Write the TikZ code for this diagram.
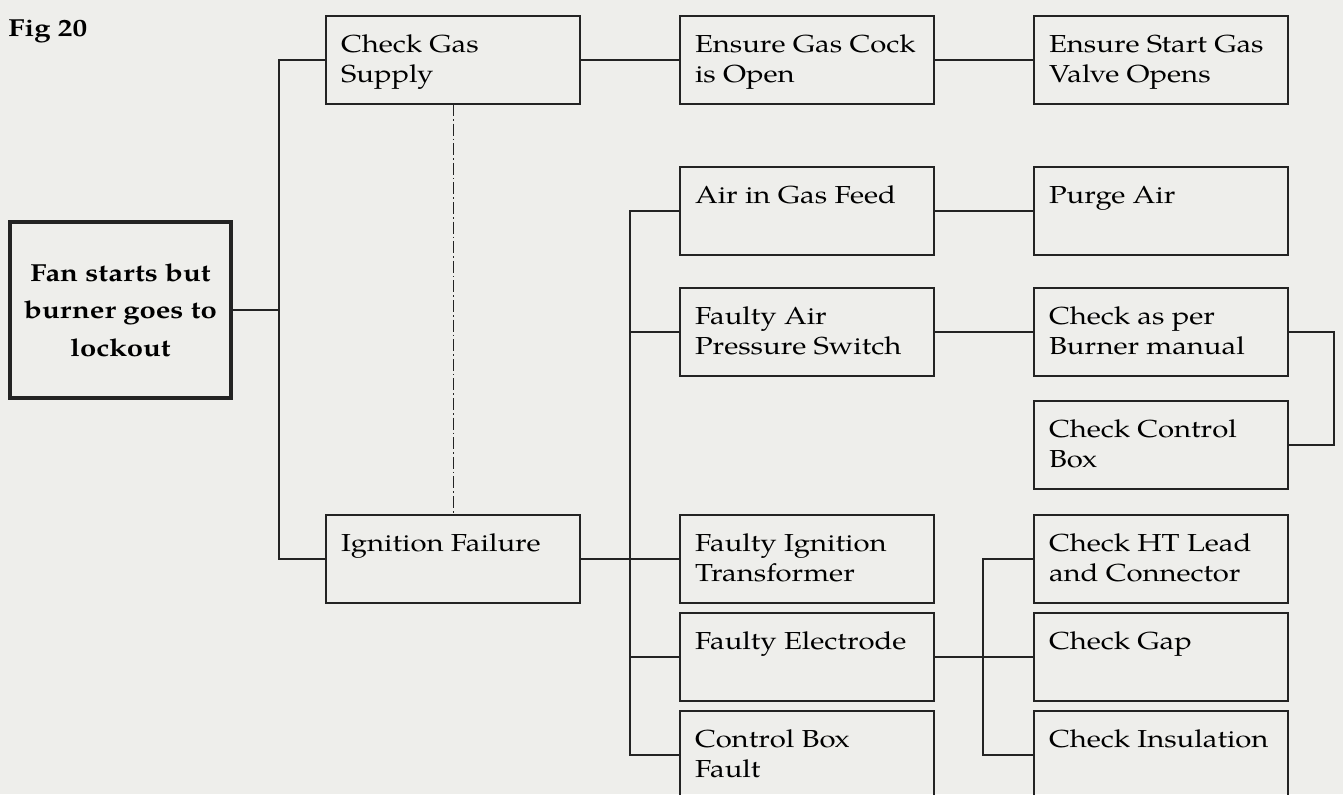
\documentclass[tikz,border=0pt]{standalone}
\usepackage{fontspec}
\setmainfont{TeX Gyre Pagella}[FakeStretch=1.19]
\definecolor{paper}{RGB}{238,238,235}
\definecolor{ink}{RGB}{35,35,35}
% text of a fault box: top left, like the scan
\newcommand{\celltext}[1]{\parbox[t][44pt][t]{127pt}{\raggedright\leftskip=7.5pt
  \fontsize{12.3}{15}\selectfont\rule{0pt}{18pt}#1}}

\begin{document}
\begin{tikzpicture}[x=0.5pt,y=-0.5pt,
    faultbox/.style={draw=ink, line width=1pt, anchor=north west, inner sep=0pt, outer sep=0pt},
    startbox/.style={draw=ink, line width=2pt, minimum width=110.5pt, minimum height=88pt,
      inner sep=0pt, outer sep=0pt, align=center, font=\bfseries\fontsize{12.3}{18.75}\selectfont},
    link/.style={draw=ink, line width=0.75pt}]
  \fill[paper] (0,0) rectangle (1343,794);
  \useasboundingbox (0,0) rectangle (1343,794);

  \node[anchor=base west, inner sep=0pt, font=\bfseries\fontsize{12.3}{15}\selectfont] (fig) at (8,36) {Fig 20};
  \node[startbox] (lock) at (120.5,310) {Fan starts but\\burner goes to\\lockout};

  % first column
  \node[faultbox] (gas) at (326,16) {\celltext{Check Gas\\Supply}};
  \node[faultbox] (ign) at (326,515) {\celltext{Ignition Failure}};

  % second column
  \node[faultbox] (cock)  at (680,16)  {\celltext{Ensure Gas Cock\\is Open}};
  \node[faultbox] (air)   at (680,167) {\celltext{Air in Gas Feed}};
  \node[faultbox] (press) at (680,288) {\celltext{Faulty Air\\Pressure Switch}};
  \node[faultbox] (trans) at (680,515) {\celltext{Faulty Ignition\\Transformer}};
  \node[faultbox] (elec)  at (680,613) {\celltext{Faulty Electrode}};
  \node[faultbox] (cbox)  at (680,711) {\celltext{Control Box\\Fault}};

  % third column
  \node[faultbox] (valve)  at (1034,16)  {\celltext{Ensure Start Gas\\Valve Opens}};
  \node[faultbox] (purge)  at (1034,167) {\celltext{Purge Air}};
  \node[faultbox] (manual) at (1034,288) {\celltext{Check as per\\Burner manual}};
  \node[faultbox] (ctrl)   at (1034,401) {\celltext{Check Control\\Box}};
  \node[faultbox] (lead)   at (1034,515) {\celltext{Check HT Lead\\and Connector}};
  \node[faultbox] (gap)    at (1034,613) {\celltext{Check Gap}};
  \node[faultbox] (insul)  at (1034,711) {\celltext{Check Insulation}};

  \coordinate (bus1) at (279,0);
  \coordinate (bus2) at (630,0);
  \coordinate (bus3) at (983,0);

  \draw[link] (lock.east) -- (lock.east -| bus1);
  \draw[link] (gas.west) -- (gas.west -| bus1) -- (ign.west -| bus1) -- (ign.west);
  \draw[draw=ink, line width=0.5pt, dash pattern=on 6pt off 1.5pt on 0.8pt off 1.5pt] (gas.south) -- (ign.north);

  \draw[link] (gas) -- (cock);
  \draw[link] (cock) -- (valve);

  \draw[link] (air.west) -- (air.west -| bus2) -- (cbox.west -| bus2) -- (cbox.west);
  \draw[link] (press.west -| bus2) -- (press.west);
  \draw[link] (elec.west -| bus2) -- (elec.west);
  \draw[link] (ign.east) -- (trans.west);

  \draw[link] (air) -- (purge);
  \draw[link] (press) -- (manual);
  \draw[link] (manual.east) -- ++(46,0) |- (ctrl.east);

  \draw[link] (lead.west) -- (lead.west -| bus3) -- (insul.west -| bus3) -- (insul.west);
  \draw[link] (elec.east) -- (gap.west);
\end{tikzpicture}
\end{document}
